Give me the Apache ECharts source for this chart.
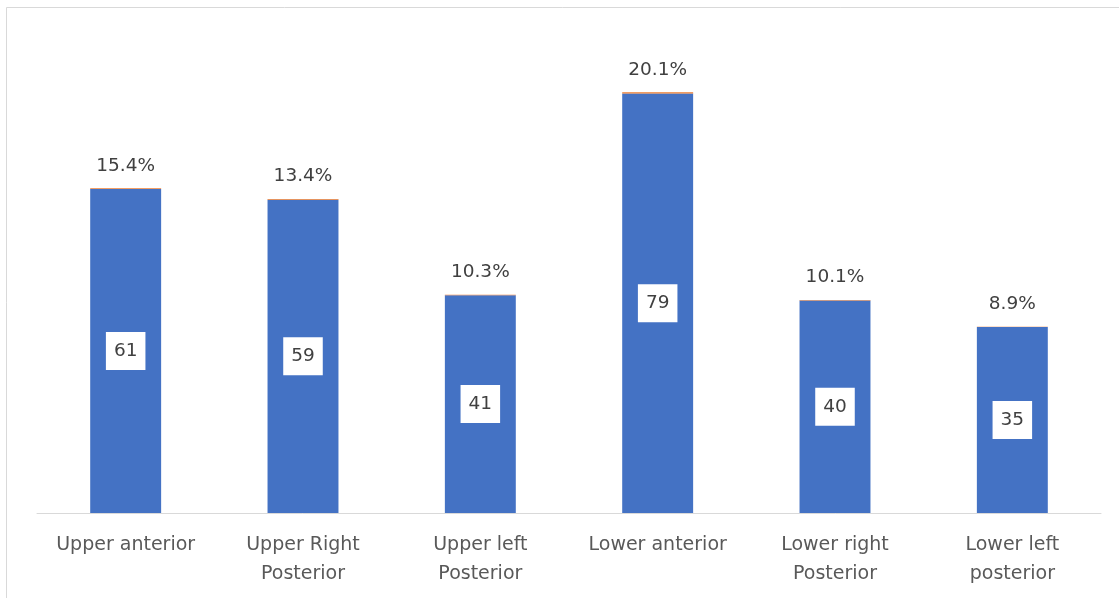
<!DOCTYPE html>
<html>
<head>
<meta charset="utf-8">
<script src="https://cdn.jsdelivr.net/npm/echarts@6/dist/echarts.min.js"></script>
<style>
  html, body { margin: 0; padding: 0; background: #fff; }
  #chart { width: 1119px; height: 598px; }
</style>
</head>
<body>
<div id="chart"></div>
<script>
// Tooth region counts and their share of the total
const regions = ['Upper anterior', 'Upper Right\nPosterior', 'Upper left\nPosterior', 'Lower anterior', 'Lower right\nPosterior', 'Lower left\nposterior'];
const counts = [61, 59, 41, 79, 40, 35];
const percents = [15.4, 13.4, 10.3, 20.1, 10.1, 8.9];

const chart = echarts.init(document.getElementById('chart'), null, { renderer: 'canvas' });
const FONT = 'DejaVu Sans';
const frameStyle = { stroke: '#d9d9d9', lineWidth: 1 };

chart.setOption({
  animation: false,
  backgroundColor: '#ffffff',
  // chart-area frame (top and left edges)
  graphic: [
    { type: 'line', shape: { x1: 6.5, y1: 7.5, x2: 1119, y2: 7.5 }, style: frameStyle, silent: true },
    { type: 'line', shape: { x1: 6.5, y1: 7.5, x2: 6.5, y2: 598 }, style: frameStyle, silent: true }
  ],
  grid: { left: 37, right: 18, top: 35, bottom: 85, containLabel: false },
  xAxis: {
    type: 'category',
    data: regions,
    axisLine: { show: true, lineStyle: { color: '#d9d9d9', width: 1 } },
    axisTick: { show: false },
    axisLabel: {
      color: '#595959', fontFamily: FONT, fontSize: 19, lineHeight: 29, margin: 18, interval: 0
    }
  },
  yAxis: {
    type: 'value', min: 0, max: 90,
    show: false,
    splitLine: { show: false }
  },
  series: [
    {
      name: 'Count',
      type: 'bar',
      stack: 'total',
      data: counts,
      barWidth: '40%',
      itemStyle: { color: '#4472c4' },
      label: {
        show: true,
        position: 'inside',
        color: '#404040',
        fontFamily: FONT,
        fontSize: 18.5,
        backgroundColor: '#ffffff',
        padding: [10, 8, 9, 8]
      }
    },
    {
      name: 'Percent',
      type: 'bar',
      stack: 'total',
      data: percents.map(p => p / 100),
      itemStyle: { color: '#ed7d31' },
      label: {
        show: true,
        position: 'top',
        distance: 13,
        color: '#404040',
        fontFamily: FONT,
        fontSize: 18.5,
        formatter: p => (p.value * 100).toFixed(1) + '%'
      }
    }
  ]
});
</script>
</body>
</html>
